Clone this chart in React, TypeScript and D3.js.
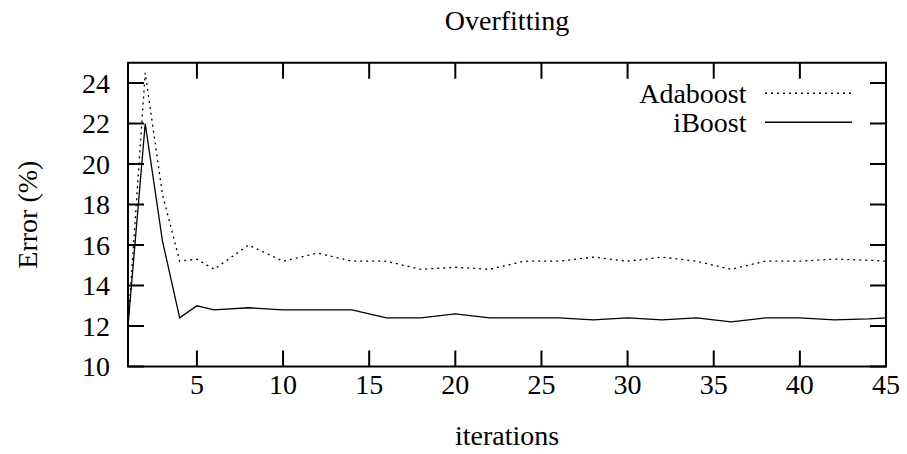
import { useRef, useEffect } from 'react'
import * as d3 from 'd3'

// values
const iterations = [1, 2, 3, 4, 5, 6, 8, 10, 12, 14, 16, 18, 20, 22, 24, 26, 28, 30, 32, 34, 36, 38, 40, 42, 44, 45]
const adaboost = [12, 24.5, 18.5, 15.2, 15.3, 14.8, 16.0, 15.2, 15.6, 15.2, 15.2, 14.8, 14.9, 14.8, 15.2, 15.2, 15.4, 15.2, 15.4, 15.2, 14.8, 15.2, 15.2, 15.3, 15.25, 15.2]
const iboost = [12, 22.0, 16.2, 12.4, 13.0, 12.8, 12.9, 12.8, 12.8, 12.8, 12.4, 12.4, 12.6, 12.4, 12.4, 12.4, 12.3, 12.4, 12.3, 12.4, 12.2, 12.4, 12.4, 12.3, 12.35, 12.4]
const xTicks = [5, 10, 15, 20, 25, 30, 35, 40, 45]
const yTicks = [10, 12, 14, 16, 18, 20, 22, 24]
const seriesNames = ['Adaboost', 'iBoost']

function App() {
  const ref = useRef<SVGSVGElement>(null)
  useEffect(() => {
    const width = 907, height = 454
    const margin = { top: 62.75, right: 21, bottom: 87.5, left: 128 }
    const w = width - margin.left - margin.right
    const h = height - margin.top - margin.bottom

    const svg = d3.select(ref.current)
    svg.selectAll('*').remove()
    svg.attr('width', width).attr('height', height)
      .attr('font-family', "'Liberation Serif', 'Times New Roman', serif")
      .attr('font-size', 28)

    const g = svg.append('g').attr('transform', 'translate(' + margin.left + ',' + margin.top + ')')

    const x = d3.scaleLinear().domain([1, 45]).range([0, w])
    const y = d3.scaleLinear().domain([10, 25]).range([h, 0])

    // gnuplot style ticks: inside, mirrored
    const tl = 16
    g.append('g').selectAll('line.yl').data(yTicks).enter().append('line')
      .attr('x1', 0).attr('x2', tl).attr('y1', d => y(d)).attr('y2', d => y(d))
      .attr('stroke', '#000').attr('stroke-width', 2)
    g.append('g').selectAll('line.yr').data(yTicks).enter().append('line')
      .attr('x1', w).attr('x2', w - tl).attr('y1', d => y(d)).attr('y2', d => y(d))
      .attr('stroke', '#000').attr('stroke-width', 2)
    g.append('g').selectAll('line.xb').data(xTicks).enter().append('line')
      .attr('x1', d => x(d)).attr('x2', d => x(d)).attr('y1', h).attr('y2', h - tl)
      .attr('stroke', '#000').attr('stroke-width', 2)
    g.append('g').selectAll('line.xt').data(xTicks).enter().append('line')
      .attr('x1', d => x(d)).attr('x2', d => x(d)).attr('y1', 0).attr('y2', tl)
      .attr('stroke', '#000').attr('stroke-width', 2)

    // tick labels
    g.append('g').selectAll('text').data(yTicks).enter().append('text')
      .attr('x', -18).attr('y', d => y(d) + 9.5)
      .attr('text-anchor', 'end')
      .text(d => d)
    g.append('g').selectAll('text').data(xTicks).enter().append('text')
      .attr('x', d => x(d)).attr('y', h + 27)
      .attr('text-anchor', 'middle')
      .text(d => d)

    // lines
    const line = (vals: number[]) => d3.line<number>()
      .x((d, i) => x(iterations[i]))
      .y(d => y(d))(vals)
    g.append('path').attr('d', line(adaboost)).attr('fill', 'none')
      .attr('stroke', '#000').attr('stroke-width', 1.3).attr('stroke-dasharray', '2,4')
    g.append('path').attr('d', line(iboost)).attr('fill', 'none')
      .attr('stroke', '#000').attr('stroke-width', 1.3)

    // border
    g.append('rect').attr('x', 0).attr('y', 0).attr('width', w).attr('height', h)
      .attr('fill', 'none').attr('stroke', '#000').attr('stroke-width', 2)

    // legend
    seriesNames.forEach((name, i) => {
      const by = 40.5 + i * 29
      g.append('text').attr('x', 618.5).attr('y', by)
        .attr('text-anchor', 'end')
        .text(name)
      g.append('line').attr('x1', 637).attr('x2', 724)
        .attr('y1', by - 10).attr('y2', by - 10)
        .attr('stroke', '#000').attr('stroke-width', 1.3)
        .attr('stroke-dasharray', i === 0 ? '2,4' : null)
    })

    // titles
    svg.append('text').attr('x', margin.left + w / 2).attr('y', 29.5)
      .attr('text-anchor', 'middle')
      .text('Overfitting')
    svg.append('text').attr('x', margin.left + w / 2).attr('y', 445)
      .attr('text-anchor', 'middle')
      .text('iterations')
    svg.append('text')
      .attr('transform', 'translate(37,' + (margin.top + h / 2) + ')rotate(-90)')
      .attr('text-anchor', 'middle')
      .text('Error (%)')
  }, [])

  return (
    <div style={{ position: 'absolute', left: 0, top: 0 }}>
      <svg ref={ref} style={{ display: 'block' }}></svg>
    </div>
  )
}

export default App
